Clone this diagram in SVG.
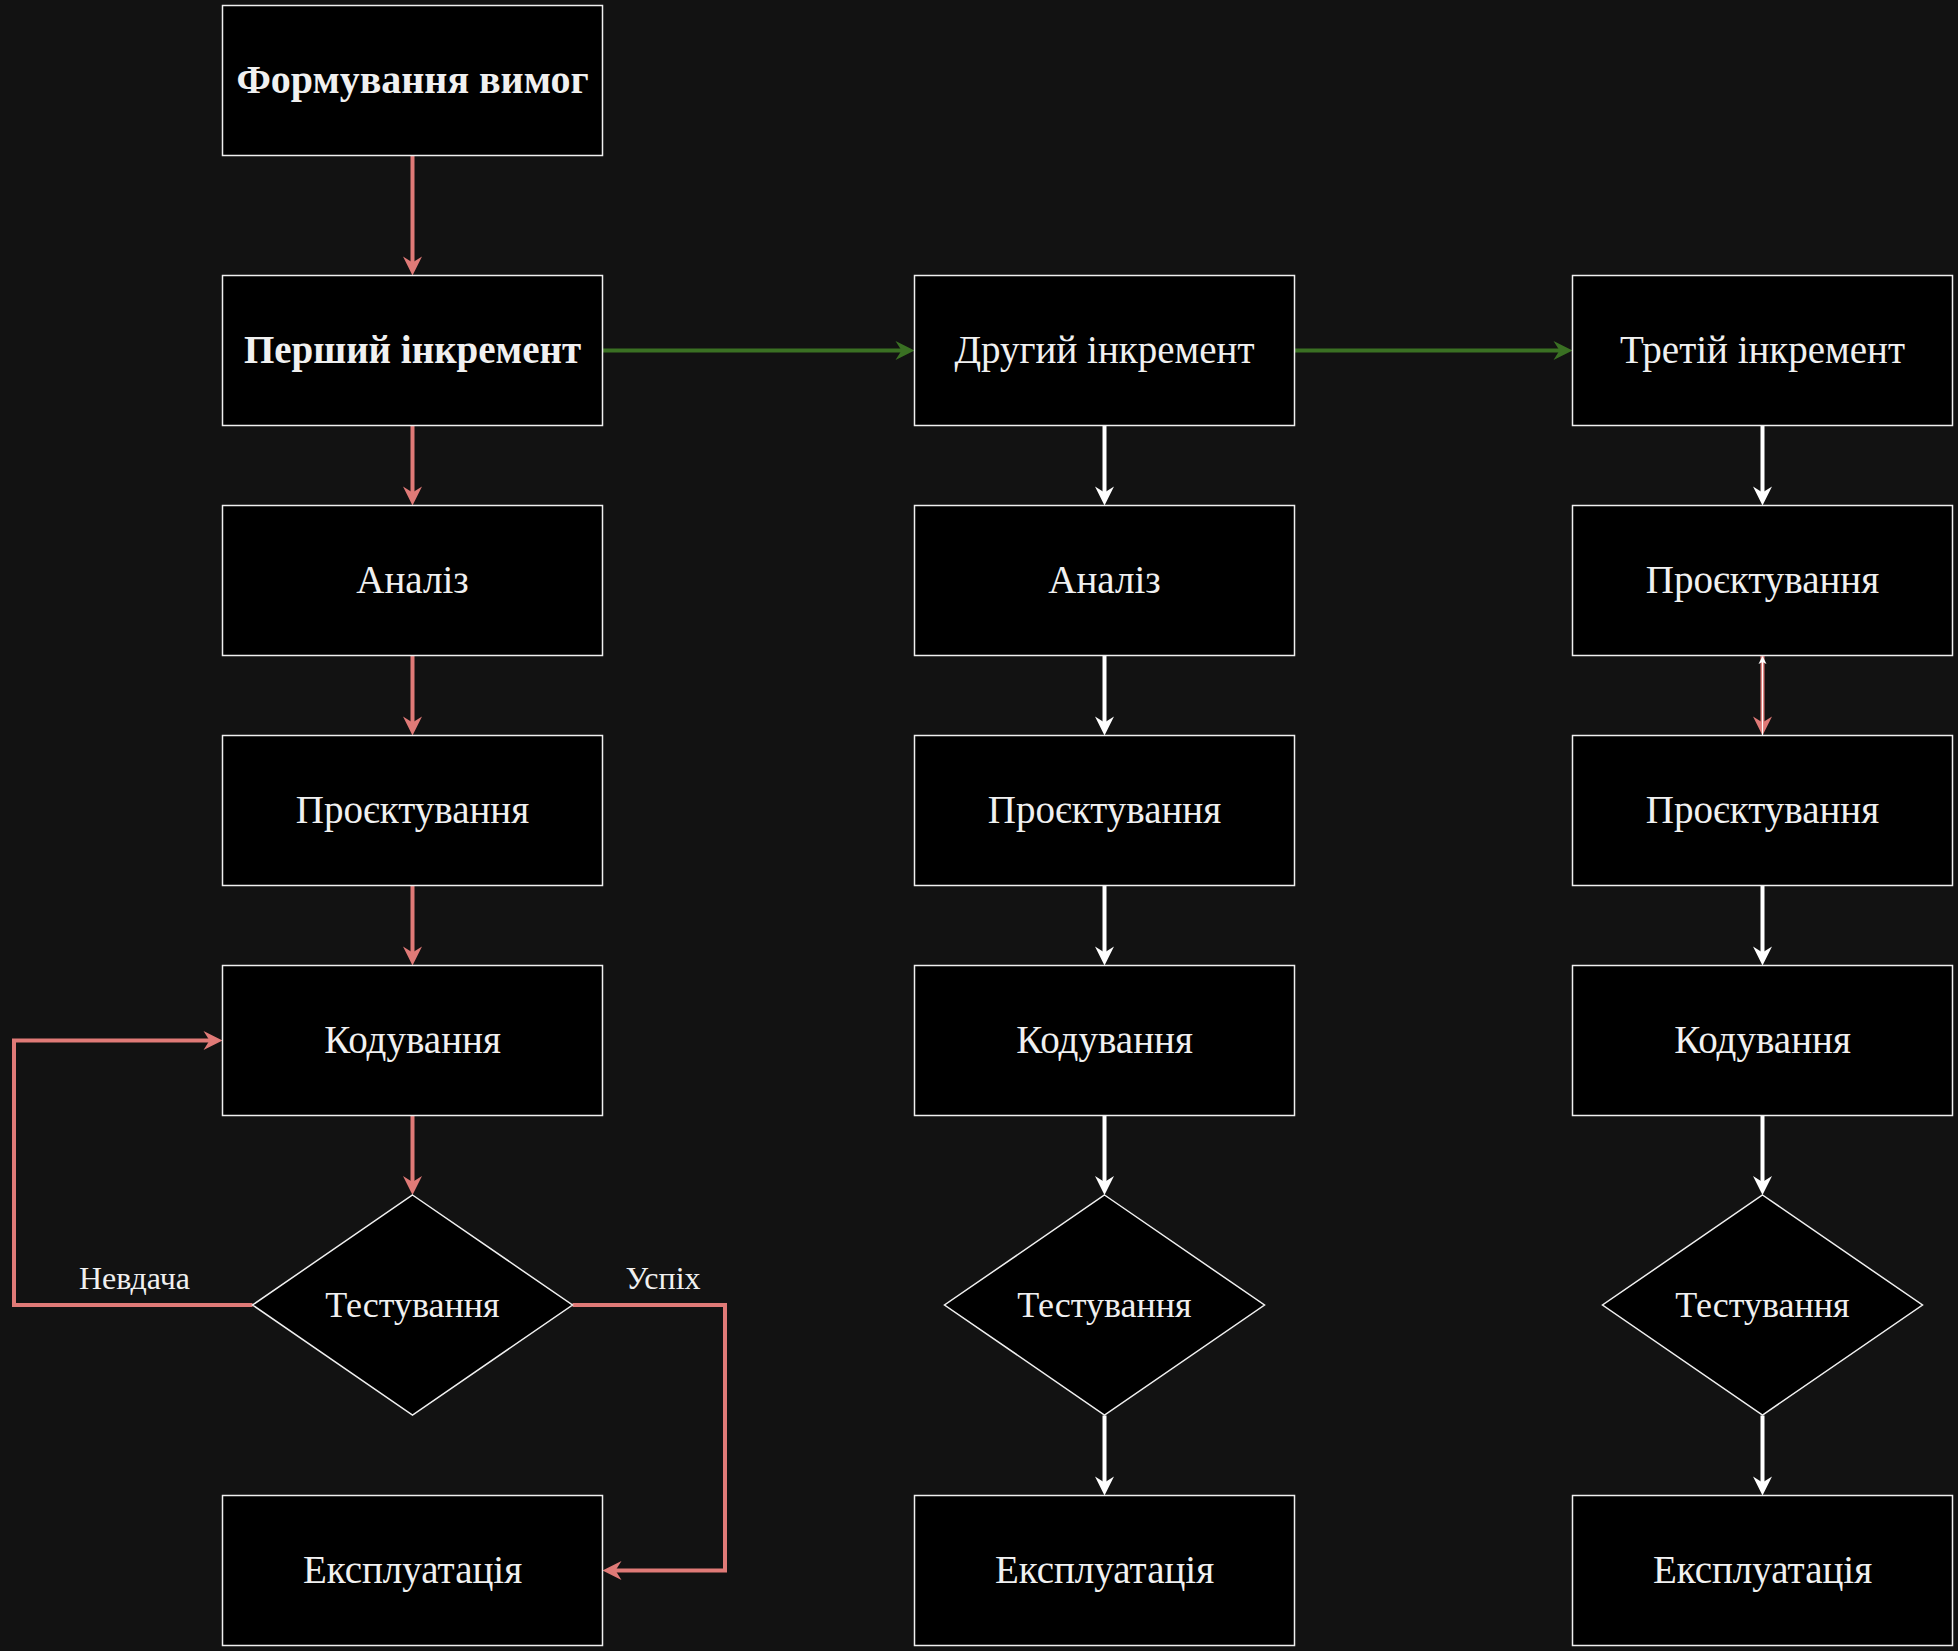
<svg xmlns="http://www.w3.org/2000/svg" width="1958" height="1651" viewBox="0 0 1958 1651">
<style>
.box{fill:#000;stroke:#f0f0f0;stroke-width:1.5}
.t{font-family:"Liberation Serif","Times New Roman",serif;font-size:39px;fill:#f0f0f0;text-anchor:middle}
.d{font-size:36px}
.b{font-weight:bold}
.lbl{font-family:"Liberation Serif","Times New Roman",serif;font-size:32px;fill:#f0f0f0;text-anchor:middle}
.red{fill:none;stroke:#e07a77;stroke-width:4}
.wht{fill:none;stroke:#ffffff;stroke-width:4}
.grn{fill:none;stroke:#3a7023;stroke-width:4}
</style>
<defs>
<marker id="aR" markerUnits="userSpaceOnUse" viewBox="-20 -10 20 20" refX="-10" refY="0" markerWidth="20" markerHeight="20" orient="auto"><path d="M0,0 L-19,-9.5 L-13,0 L-19,9.5 Z" fill="#e07a77"/></marker>
<marker id="aW" markerUnits="userSpaceOnUse" viewBox="-20 -10 20 20" refX="-10" refY="0" markerWidth="20" markerHeight="20" orient="auto"><path d="M0,0 L-19,-9.5 L-13,0 L-19,9.5 Z" fill="#ffffff"/></marker>
<marker id="aG" markerUnits="userSpaceOnUse" viewBox="-20 -10 20 20" refX="-10" refY="0" markerWidth="20" markerHeight="20" orient="auto"><path d="M0,0 L-19,-9.5 L-13,0 L-19,9.5 Z" fill="#3a7023"/></marker>
<marker id="aWs" markerUnits="userSpaceOnUse" viewBox="-10 -5 10 10" refX="-4" refY="0" markerWidth="10" markerHeight="10" orient="auto"><path d="M0,0 L-8,-4 L-6,0 L-8,4 Z" fill="#ffffff"/></marker>
</defs>
<rect width="1958" height="1651" fill="#121212"/>

<g id="connectors">
<path class="red" d="M412.5,155.5 V265.5" marker-end="url(#aR)"/>
<path class="red" d="M412.5,425.5 V495.5" marker-end="url(#aR)"/>
<path class="red" d="M412.5,655.5 V725.5" marker-end="url(#aR)"/>
<path class="red" d="M412.5,885.5 V955.5" marker-end="url(#aR)"/>
<path class="red" d="M412.5,1115.5 V1185" marker-end="url(#aR)"/>
<path class="red" d="M252.5,1305 H14 V1040.5 H212.5" marker-end="url(#aR)"/>
<path class="red" d="M572.5,1305 H725 V1570.5 H612.5" marker-end="url(#aR)"/>
<path class="grn" d="M602.5,350.5 H904.5" marker-end="url(#aG)"/>
<path class="grn" d="M1294.5,350.5 H1562.5" marker-end="url(#aG)"/>
<path class="wht" d="M1104.5,425.5 V495.5" marker-end="url(#aW)"/>
<path class="wht" d="M1104.5,655.5 V725.5" marker-end="url(#aW)"/>
<path class="wht" d="M1104.5,885.5 V955.5" marker-end="url(#aW)"/>
<path class="wht" d="M1104.5,1115.5 V1185" marker-end="url(#aW)"/>
<path class="wht" d="M1104.5,1415.5 V1485.5" marker-end="url(#aW)"/>
<path class="wht" d="M1762.5,425.5 V495.5" marker-end="url(#aW)"/>
<path class="red" d="M1762.5,655.5 V725.5" marker-end="url(#aR)"/>
<path fill="none" stroke="#ffffff" stroke-width="1.2" d="M1762.5,735.5 V660" marker-end="url(#aWs)"/>
<path class="wht" d="M1762.5,885.5 V955.5" marker-end="url(#aW)"/>
<path class="wht" d="M1762.5,1115.5 V1185" marker-end="url(#aW)"/>
<path class="wht" d="M1762.5,1415.5 V1485.5" marker-end="url(#aW)"/>
<text class="lbl" x="134.5" y="1289">Невдача</text>
<text class="lbl" x="663" y="1289">Успіх</text>
</g>

<g id="n-req"><rect class="box" x="222.5" y="5.5" width="380" height="150"/><text class="t b" x="412.5" y="93" style="font-size:40px">Формування вимог</text></g>
<g id="n-inc1"><rect class="box" x="222.5" y="275.5" width="380" height="150"/><text class="t b" x="412.5" y="363">Перший інкремент</text></g>
<g id="n-an1"><rect class="box" x="222.5" y="505.5" width="380" height="150"/><text class="t" x="412.5" y="593">Аналіз</text></g>
<g id="n-pr1"><rect class="box" x="222.5" y="735.5" width="380" height="150"/><text class="t" x="412.5" y="823">Проєктування</text></g>
<g id="n-code1"><rect class="box" x="222.5" y="965.5" width="380" height="150"/><text class="t" x="412.5" y="1053">Кодування</text></g>
<g id="n-test1"><path class="box" d="M412.5,1195 L572.5,1305 L412.5,1415 L252.5,1305 Z"/><text class="t d" x="412.5" y="1317">Тестування</text></g>
<g id="n-exp1"><rect class="box" x="222.5" y="1495.5" width="380" height="150"/><text class="t" x="412.5" y="1583">Експлуатація</text></g>

<g id="n-inc2"><rect class="box" x="914.5" y="275.5" width="380" height="150"/><text class="t" x="1104.5" y="363">Другий інкремент</text></g>
<g id="n-an2"><rect class="box" x="914.5" y="505.5" width="380" height="150"/><text class="t" x="1104.5" y="593">Аналіз</text></g>
<g id="n-pr2"><rect class="box" x="914.5" y="735.5" width="380" height="150"/><text class="t" x="1104.5" y="823">Проєктування</text></g>
<g id="n-code2"><rect class="box" x="914.5" y="965.5" width="380" height="150"/><text class="t" x="1104.5" y="1053">Кодування</text></g>
<g id="n-test2"><path class="box" d="M1104.5,1195 L1264.5,1305 L1104.5,1415 L944.5,1305 Z"/><text class="t d" x="1104.5" y="1317">Тестування</text></g>
<g id="n-exp2"><rect class="box" x="914.5" y="1495.5" width="380" height="150"/><text class="t" x="1104.5" y="1583">Експлуатація</text></g>

<g id="n-inc3"><rect class="box" x="1572.5" y="275.5" width="380" height="150"/><text class="t" x="1762.5" y="363">Третій інкремент</text></g>
<g id="n-pr3a"><rect class="box" x="1572.5" y="505.5" width="380" height="150"/><text class="t" x="1762.5" y="593">Проєктування</text></g>
<g id="n-pr3b"><rect class="box" x="1572.5" y="735.5" width="380" height="150"/><text class="t" x="1762.5" y="823">Проєктування</text></g>
<g id="n-code3"><rect class="box" x="1572.5" y="965.5" width="380" height="150"/><text class="t" x="1762.5" y="1053">Кодування</text></g>
<g id="n-test3"><path class="box" d="M1762.5,1195 L1922.5,1305 L1762.5,1415 L1602.5,1305 Z"/><text class="t d" x="1762.5" y="1317">Тестування</text></g>
<g id="n-exp3"><rect class="box" x="1572.5" y="1495.5" width="380" height="150"/><text class="t" x="1762.5" y="1583">Експлуатація</text></g>
</svg>
